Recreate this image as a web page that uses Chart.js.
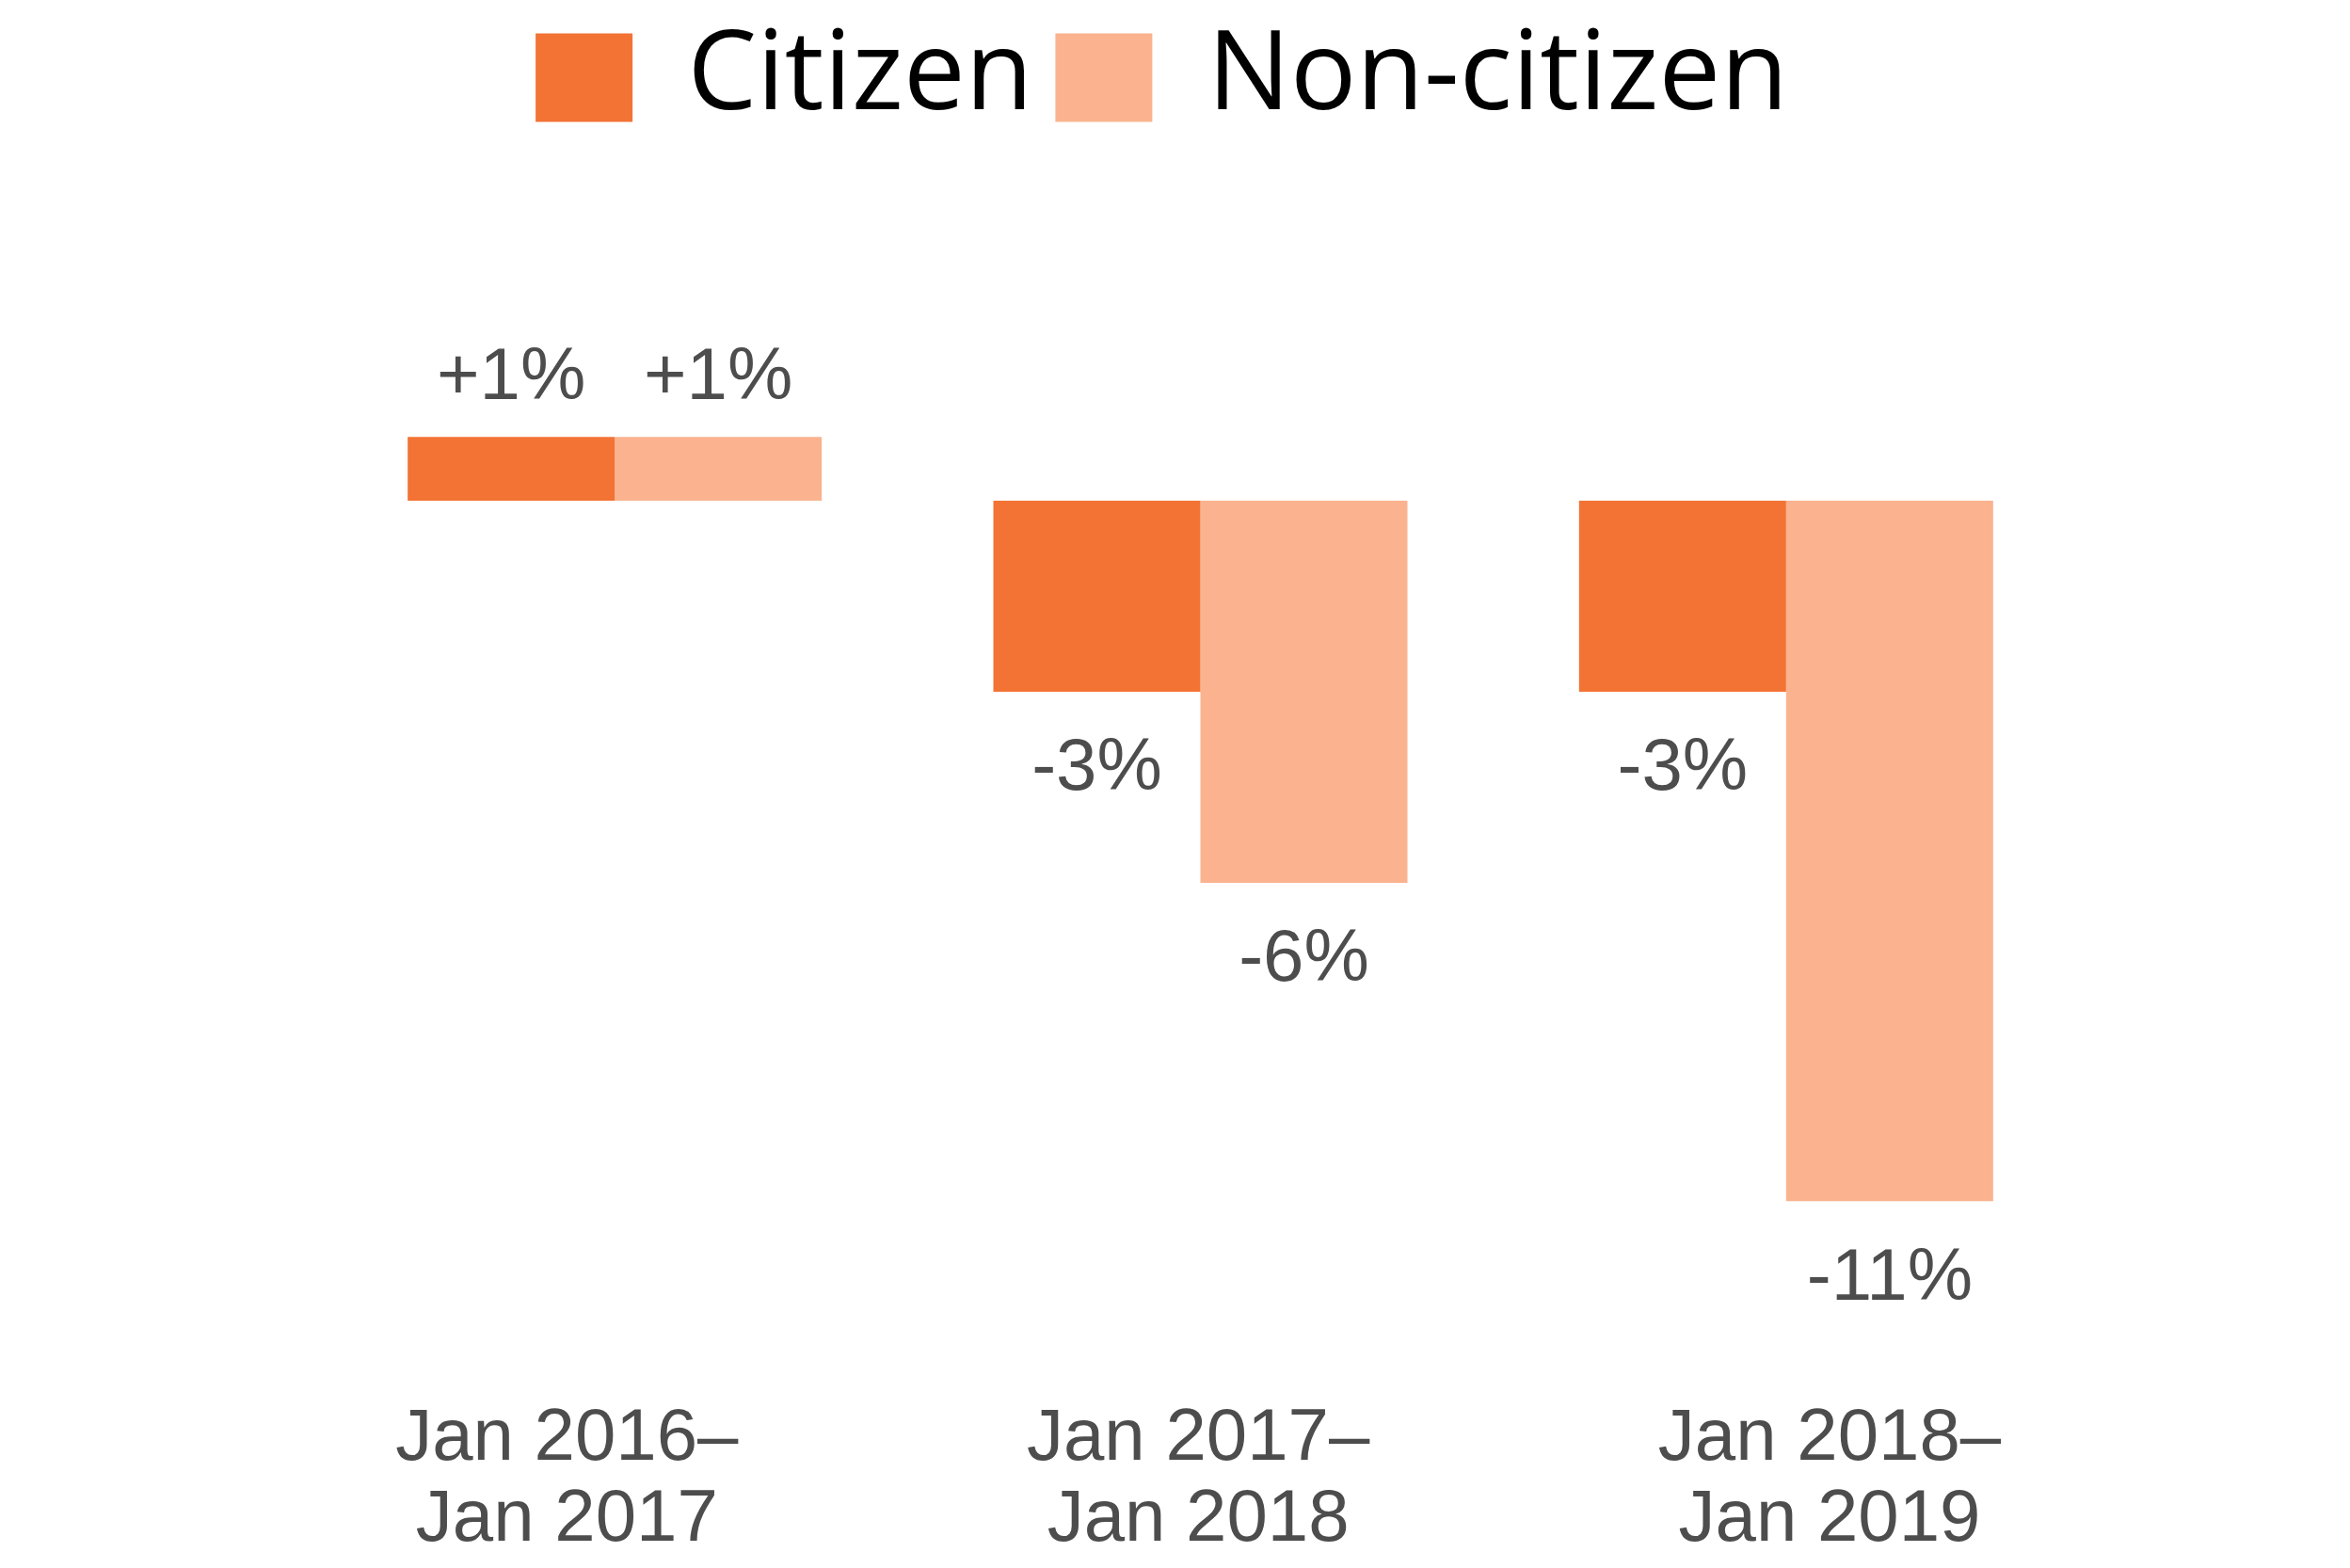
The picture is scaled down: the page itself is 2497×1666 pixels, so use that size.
<!DOCTYPE html>
<html lang="en">
<head>
<meta charset="UTF-8">
<title>Citizen / Non-citizen change</title>
<style>
  html, body { margin: 0; padding: 0; background: #fff; }
  #wrap { width: 2497px; height: 1666px; }
</style>
</head>
<body>
<div id="wrap"><canvas id="myChart"></canvas></div>
<script src="https://cdn.jsdelivr.net/npm/chart.js"></script>
<script>
// data
const periods = [['Jan 2016–', 'Jan 2017'], ['Jan 2017–', 'Jan 2018'], ['Jan 2018–', 'Jan 2019']];
const citizen = [1, -3, -3];
const nonCitizen = [1, -6, -11];
const seriesNames = ['Citizen', 'Non-citizen'];

const textGrey = '#4d4d4d';
const labelFont = { family: '"Liberation Sans", Arial, sans-serif', size: 78, lineHeight: 1.1 };

// value labels above / below each bar
const valueLabels = {
  id: 'valueLabels',
  afterDatasetsDraw(chart) {
    const ctx = chart.ctx;
    ctx.save();
    ctx.font = '78px "Liberation Sans", Arial, sans-serif';
    ctx.fillStyle = textGrey;
    ctx.textAlign = 'center';
    ctx.textBaseline = 'middle';
    chart.data.datasets.forEach((ds, i) => {
      chart.getDatasetMeta(i).data.forEach((bar, j) => {
        const v = ds.data[j];
        const txt = (v > 0 ? '+' : '') + v + '%';
        const y = v >= 0 ? bar.y - 62 : bar.y + 83;
        ctx.fillText(txt, bar.x, y);
      });
    });
    ctx.restore();
  }
};

// the period labels sit a little wider apart than the bar groups
const labelMin = -0.388, labelMax = 2.395;

const myChart = new Chart(document.getElementById('myChart'), {
  type: 'bar',
  data: {
    labels: periods,
    datasets: [
      { label: seriesNames[0], data: citizen, backgroundColor: '#F37335', borderWidth: 0 },
      { label: seriesNames[1], data: nonCitizen, backgroundColor: '#FAB38E', borderWidth: 0 }
    ]
  },
  options: {
    responsive: true,
    maintainAspectRatio: false,
    animation: false,
    categoryPercentage: 0.707,
    barPercentage: 1.0,
    layout: { padding: { left: 260, right: 288, top: 0, bottom: 12 } },
    plugins: {
      legend: {
        position: 'top',
        labels: {
          boxWidth: 103,
          boxHeight: 94,
          padding: 24,
          color: '#000',
          font: { family: '"Open Sans", "Noto Sans", sans-serif', size: 117 }
        }
      },
      tooltip: { enabled: false }
    },
    scales: {
      x: { type: 'category', display: false, offset: true },
      x2: {
        type: 'linear',
        position: 'bottom',
        offset: false,
        bounds: 'data',
        min: labelMin,
        max: labelMax,
        grid: { display: false, drawTicks: false, offset: false },
        border: { display: false },
        afterBuildTicks: (axis) => {
          axis.ticks = periods.map((p, i) => ({ value: i }));
          axis.min = labelMin;
          axis.max = labelMax;
        },
        afterFit: (axis) => { axis.height -= 24; },
        ticks: {
          autoSkip: false,
          maxRotation: 0,
          padding: 20,
          color: textGrey,
          font: labelFont,
          callback: (v) => periods[v]
        }
      },
      y: {
        min: -13.81,
        max: 5.63,
        grid: { display: false, drawTicks: false },
        border: { display: false },
        ticks: { display: false },
        afterFit: (axis) => { axis.width = 82; }
      }
    }
  },
  plugins: [valueLabels]
});
</script>
</body>
</html>
